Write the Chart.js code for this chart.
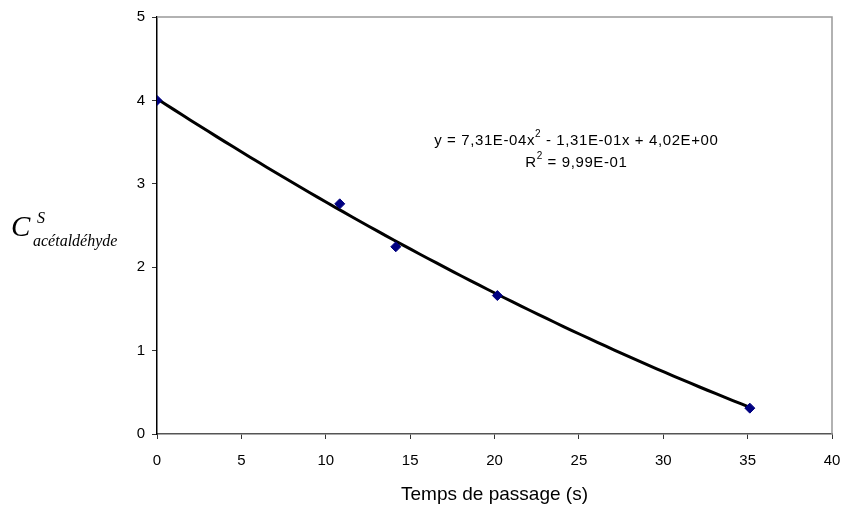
<!DOCTYPE html>
<html><head><meta charset="utf-8">
<script src="https://cdn.jsdelivr.net/npm/chart.js@4/dist/chart.umd.min.js"></script>
<style>html,body{margin:0;padding:0;background:#fff}#w{width:845px;height:508px;position:relative}</style>
</head><body><div id="w"><canvas id="c"></canvas></div>
<script>
const timeValues = [0, 10.83, 14.15, 20.17, 35.13];
const concValues = [4.00, 2.76, 2.245, 1.66, 0.31];
const trendCoefficients = [4.02, -0.131, 7.31e-4]; // c0 + c1 x + c2 x^2 (from chart label)
const xTicks = [0, 5, 10, 15, 20, 25, 30, 35, 40];
const yTicks = [0, 1, 2, 3, 4, 5];
const xTitle = 'Temps de passage (s)';
const eqLine1 = ['y = 7,31E-04x', '2', ' - 1,31E-01x + 4,02E+00'];
const eqLine2 = ['R', '2', ' = 9,99E-01'];
const yTitleMain = 'C', yTitleSup = 'S', yTitleSub = 'acétaldéhyde';

const pts = timeValues.map((x, i) => ({x, y: concValues[i]}));
const trend = [];
const xmax = timeValues[timeValues.length - 1];
for (let k = 0; k <= 70; k++) {
  const x = xmax * k / 70;
  trend.push({x, y: trendCoefficients[0] + trendCoefficients[1] * x + trendCoefficients[2] * x * x});
}

const FONT = '"Liberation Sans", Arial, sans-serif';
const deco = {
  id: 'deco',
  afterDraw(chart) {
    const {ctx, chartArea: a, scales} = chart;
    ctx.save();
    ctx.strokeStyle = '#999';
    ctx.lineWidth = 1.5;
    ctx.beginPath();
    ctx.moveTo(a.left, a.top); ctx.lineTo(a.right, a.top); ctx.lineTo(a.right, a.bottom);
    ctx.stroke();
    ctx.fillStyle = '#000';
    try { ctx.letterSpacing = '0.6px'; } catch (e) {}
    function drawSeg(segs, cx, cy) {
      ctx.font = '15px ' + FONT;
      const w0 = ctx.measureText(segs[0]).width;
      const w2 = ctx.measureText(segs[2]).width;
      ctx.font = '10px ' + FONT;
      const w1 = ctx.measureText(segs[1]).width;
      let x = cx - (w0 + w1 + w2) / 2;
      ctx.textBaseline = 'middle'; ctx.textAlign = 'left';
      ctx.font = '15px ' + FONT; ctx.fillText(segs[0], x, cy); x += w0;
      ctx.font = '10px ' + FONT; ctx.fillText(segs[1], x, cy - 7); x += w1;
      ctx.font = '15px ' + FONT; ctx.fillText(segs[2], x, cy);
    }
    const cx = scales.x.getPixelForValue(24.85);
    drawSeg(eqLine1, cx, scales.y.getPixelForValue(3.51));
    drawSeg(eqLine2, cx, scales.y.getPixelForValue(3.25));
    try { ctx.letterSpacing = '0px'; } catch (e) {}
    ctx.textBaseline = 'alphabetic';
    ctx.font = 'italic 29px "Liberation Serif", "Times New Roman", serif';
    ctx.fillText(yTitleMain, 11, 236);
    ctx.font = 'italic 16px "Liberation Serif", "Times New Roman", serif';
    ctx.fillText(yTitleSup, 37, 223);
    ctx.fillText(yTitleSub, 33, 246);
    ctx.restore();
  }
};

new Chart(document.getElementById('c'), {
  type: 'scatter',
  data: {datasets: [
    {data: trend, showLine: true, borderColor: '#000', borderWidth: 3, pointRadius: 0, tension: 0, order: 2},
    {data: pts, pointStyle: 'rectRot', pointRadius: 5, pointBackgroundColor: '#000080', pointBorderColor: '#000080', borderWidth: 1, order: 1}
  ]},
  plugins: [deco],
  options: {
    responsive: true, maintainAspectRatio: false, animation: false,
    layout: {padding: {left: 0, right: 13, top: 17, bottom: 0}},
    plugins: {legend: {display: false}, tooltip: {enabled: false}},
    scales: {
      x: {
        type: 'linear', min: 0, max: 40,
        afterBuildTicks(s) { s.ticks = xTicks.map(v => ({value: v})); },
        afterFit(s) { s.height = 74; s.paddingLeft = 0; s.paddingRight = 0; },
        grid: {display: true, drawOnChartArea: false, drawTicks: true, tickLength: 5, color: '#333', lineWidth: 1},
        border: {display: true, color: '#555', width: 1.5},
        ticks: {color: '#000', font: {family: FONT, size: 15}, padding: 13, maxRotation: 0},
        title: {display: true, text: xTitle, color: '#000', font: {family: FONT, size: 19}, padding: {top: 4, bottom: 2}}
      },
      y: {
        type: 'linear', min: 0, max: 5,
        afterBuildTicks(s) { s.ticks = yTicks.map(v => ({value: v})); },
        afterFit(s) { s.width = 157; s.paddingTop = 0; s.paddingBottom = 0; },
        grid: {display: true, drawOnChartArea: false, drawTicks: true, tickLength: 5, color: '#333', lineWidth: 1},
        border: {display: true, color: '#000', width: 1.5},
        ticks: {color: '#000', font: {family: FONT, size: 15}, padding: 7}
      }
    }
  }
});
</script></body></html>
